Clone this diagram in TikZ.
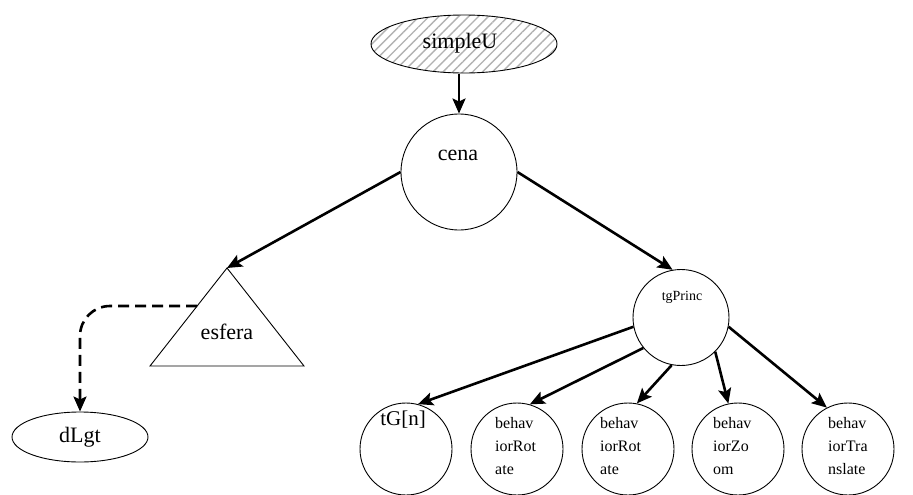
\documentclass[tikz,border=0pt]{standalone}
\usepackage{fontspec}
\setmainfont{Liberation Serif}
\usetikzlibrary{arrows.meta,patterns.meta,shapes.geometric}
\begin{document}
\begin{tikzpicture}[x=1pt,y=-1pt,
  shapeline/.style={draw=black,line width=0.9pt},
  conn/.style={line width=2.6pt,-{Stealth[length=15pt,width=13pt,inset=3pt]}},
  dconn/.style={conn,dash pattern=on 11pt off 6pt},
  bigtxt/.style={font=\fontsize{22}{26}\selectfont,inner sep=0pt},
  smalltxt/.style={font=\fontsize{16}{23}\selectfont,align=left,inner sep=0pt,anchor=base west},
  leaf/.style={shapeline,circle,minimum size=92pt,inner sep=0pt}]
\useasboundingbox (0,0) rectangle (913,495);
\clip (0,0) rectangle (913,495);
\fill[white] (0,0) rectangle (913,495);

% root
\node[ellipse, shapeline, minimum width=186pt, minimum height=58pt, inner sep=0pt,
  pattern={Lines[angle=45,distance=7pt,line width=1.4pt]}, pattern color=gray!60] (simpleU) at (464,44) {};
\node[bigtxt] (simpleUtxt) at (460,43) {simpleU};

% cena
\node[circle, shapeline, minimum size=116pt, inner sep=0pt] (cena) at (459,172) {};
\node[bigtxt] (cenatxt) at (458,155) {cena};

% esfera triangle
\coordinate (esferaTop) at (227,268);
\coordinate (esferaL) at (197,306);
\draw[shapeline] (esferaTop) -- (150,366) -- (304,366) -- cycle;
\node[bigtxt] (esfera) at (227,332) {esfera};

% dLgt
\node[ellipse, shapeline, minimum width=136pt, minimum height=50pt, inner sep=0pt] (dLgt) at (80,437) {};
\node[bigtxt] (dLgttxt) at (80,437) {dLgt};

% tgPrinc
\node[circle, shapeline, minimum size=96pt, inner sep=0pt] (tgPrinc) at (681,317.5) {};
\node[font=\fontsize{14}{16}\selectfont, inner sep=0pt] (tgPrinctxt) at (682,297) {tgPrinc};

% leaves
\node[leaf] (tGn) at (406,449) {};
\node[leaf] (rotA) at (517,449) {};
\node[leaf] (rotB) at (628,449) {};
\node[leaf] (zoom) at (738,449) {};
\node[leaf] (transl) at (848,449) {};
\node[font=\fontsize{21}{24}\selectfont, inner sep=0pt] (tGntxt) at (403,420) {tG[n]};
\node[smalltxt] (rotAtxt) at (495,474) {behav\\iorRot\\ate};
\node[smalltxt] (rotBtxt) at (600,474) {behav\\iorRot\\ate};
\node[smalltxt] (zoomtxt) at (713,474) {behav\\iorZo\\om};
\node[smalltxt] (transltxt) at (828,474) {behav\\iorTra\\nslate};

% connectors
\draw[conn] (cena.north |- simpleU.south) -- (cena.north);
\draw[conn] (cena.west) -- (esferaTop);
\draw[conn] (cena.east) -- (tgPrinc.100);
\draw[dconn, rounded corners=30pt] (esferaL) -| (dLgt.north);
\draw[conn] (tgPrinc.191) -- (tGn.75);
\draw[conn] (tgPrinc.219) -- (rotA.74);
\draw[conn] (tgPrinc.259) -- (rotB.79);
\draw[conn] (tgPrinc.315) -- (zoom.102);
\draw[conn] (tgPrinc.349) -- (transl.117);
\end{tikzpicture}
\end{document}
